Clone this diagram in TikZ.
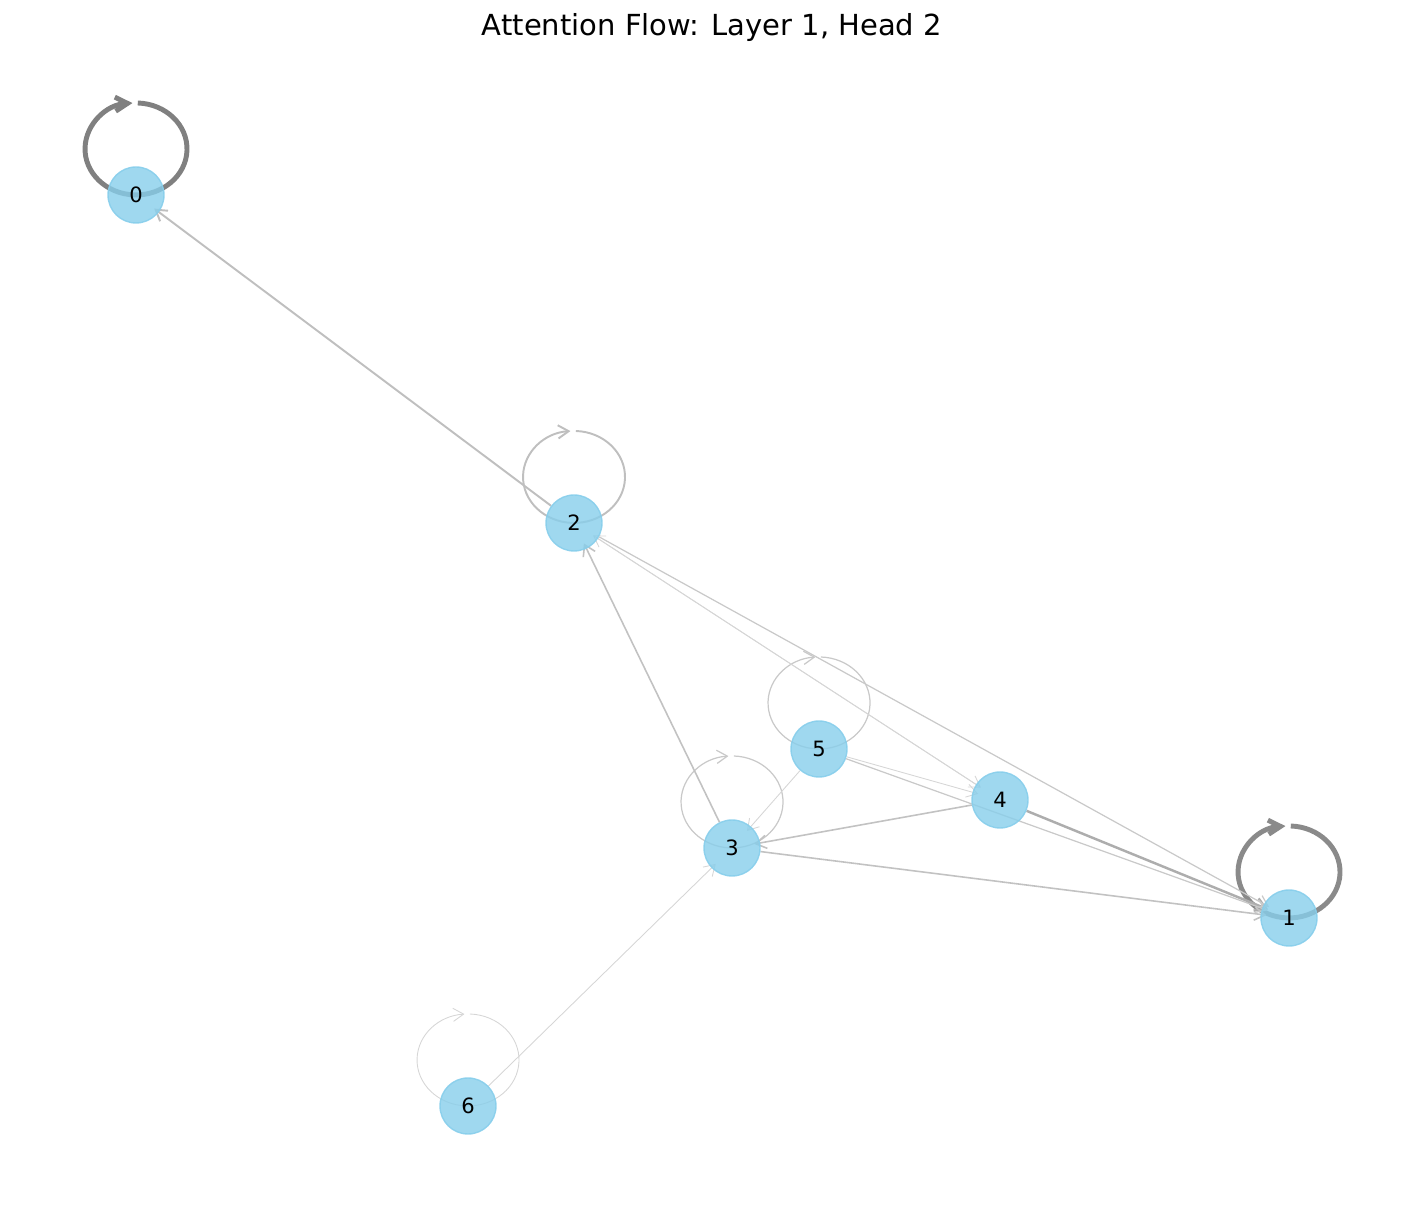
\documentclass[tikz,border=0pt]{standalone}
\usepackage{fontspec}
\setmainfont{DejaVu Sans}
\usetikzlibrary{calc, arrows.meta, backgrounds}

\definecolor{nodeblue}{RGB}{135,206,235}

% self attention loop above a token
\newcommand{\attnloop}[2]{%
  \draw[#2] ($(#1.center)+(1.8,92)$) arc[start angle=88, end angle=-266, x radius=1.02cm, y radius=0.92cm];}

\begin{document}
\begin{tikzpicture}[x=0.02cm, y=0.02cm,
    tok/.style={circle, fill=nodeblue, fill opacity=0.8, draw=nodeblue, draw opacity=0.9,
      line width=0.8pt, text opacity=1, minimum size=1.12cm, inner sep=0pt,
      font=\fontsize{12}{14}\selectfont},
    tip/.style={-{Straight Barb[length=6pt,width=7.5pt]}},
    bigtip/.style={-{Straight Barb[length=7pt,width=8pt]}},
    link/.style={shorten >=-0.12cm},
    w0/.style={bigtip, line width=2.8pt, draw=black!50},
    w1/.style={bigtip, line width=2.8pt, draw=black!46},
    w2/.style={tip, line width=1.1pt, draw=black!25},
    w3/.style={tip, line width=1.4pt, draw=black!32},
    w4/.style={tip, line width=0.9pt, draw=black!24},
    w5/.style={tip, line width=0.7pt, draw=black!21},
    w6/.style={tip, line width=0.5pt, draw=black!16}]
    \useasboundingbox (0,0) rectangle (1425,1219);

    % Tiêu đề
    \node[font=\fontsize{16.5}{19}\selectfont] (title) at (712,1191) {Attention Flow: Layer 1, Head 2};

    % Các token
    \node[tok] (t0) at (136,1024) {0};
    \node[tok] (t1) at (1289,301) {1};
    \node[tok] (t2) at (574,696) {2};
    \node[tok] (t3) at (732,371) {3};
    \node[tok] (t4) at (1000,419) {4};
    \node[tok] (t5) at (819,470) {5};
    \node[tok] (t6) at (468,113) {6};

    \begin{pgfonlayer}{background}
        % Vòng tự chú ý
        \attnloop{t0}{w0}
        \attnloop{t1}{w1}
        \attnloop{t2}{w2}
        \attnloop{t3}{w5}
        \attnloop{t5}{w5}
        \attnloop{t6}{w6}

        % Các cạnh chú ý
        \draw[w2, link] (t2) -- (t0);
        \draw[w3, link] (t4) -- (t1);
        \draw[w4, link] (t3) -- (t1);
        \draw[w4, link] (t4) -- (t3);
        \draw[w4, link] (t3) -- (t2);
        \draw[w5, link] (t5) -- (t1);
        \draw[w5, link] (t2) -- (t1);
        \draw[w6, link] (t6) -- (t3);
        \draw[w6, link] (t5) -- (t3);
        \draw[w6, link] (t5) -- (t4);
        \draw[w6, link] (t4) -- (t2);
        \draw[w6, link] (t2) -- (t4);
    \end{pgfonlayer}
\end{tikzpicture}
\end{document}
